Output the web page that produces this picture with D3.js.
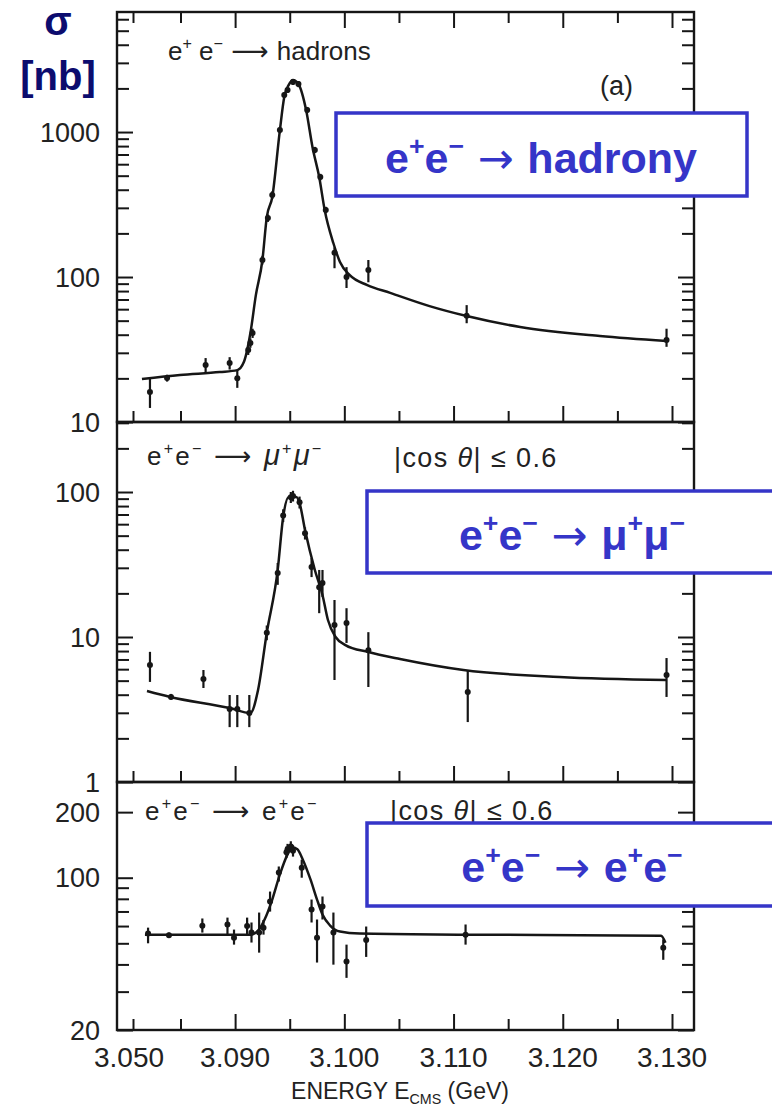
<!DOCTYPE html>
<html>
<head>
<meta charset="utf-8">
<script src="https://cdn.jsdelivr.net/npm/d3@7"></script>
<style>
  body { margin: 0; background: #fff; }
  svg { display: block; }
</style>
</head>
<body>
<svg id="chart"></svg>
<script>
// energy axis (GeV) - axis is broken between 3.050 and 3.085
const majorE = [3.090, 3.100, 3.110, 3.120, 3.130]
const minorE = [3.050, 3.085, 3.095, 3.105, 3.115, 3.125]
const labelE = [3.050, 3.090, 3.100, 3.110, 3.120, 3.130]

// (a) e+e- -> hadrons, sigma in nb
const hadE   = [3.0625, 3.0751, 3.0873, 3.0895, 3.0902, 3.0912, 3.0914, 3.0916, 3.0925, 3.0930, 3.0934, 3.0941, 3.0945, 3.0948, 3.0953, 3.0958, 3.0966, 3.0973, 3.0978, 3.0983, 3.0991, 3.1002, 3.1022, 3.1112, 3.1295]
const hadSig = [16.1, 20.1, 24.7, 25.5, 20, 31.4, 35, 41.1, 131, 255, 368, 1032, 1800, 1950, 2214, 2143, 1419, 751, 489, 290, 147, 100, 112, 54, 36.8]
const hadLo  = [12.5, 19, 22.1, 23, 17.2, 29, 32.5, 38, 122, 240, 345, 980, 1720, 1860, 2110, 2040, 1350, 715, 465, 275, 115, 84, 92, 48, 33]
const hadHi  = [20.4, 21.2, 27.6, 28, 22.8, 34, 37.7, 44, 140, 270, 390, 1085, 1880, 2040, 2320, 2250, 1490, 790, 515, 305, 160, 117, 131, 64, 44]
const hadFitE   = [3.0566, 3.0846, 3.0886, 3.0902, 3.0908, 3.0914, 3.0919, 3.0925, 3.0929, 3.0934, 3.0941, 3.0945, 3.0949, 3.0953, 3.0958, 3.0965, 3.0971, 3.0977, 3.0982, 3.0990, 3.0996, 3.1005, 3.1021, 3.1042, 3.1078, 3.1112, 3.1161, 3.1234, 3.1295]
const hadFitSig = [19.8, 21.1, 22.1, 22.8, 25.9, 41.1, 75, 131, 259, 355, 1032, 1742, 2108, 2285, 2143, 1419, 776, 489, 290, 171, 127, 103, 88, 77.7, 63, 53.8, 45.2, 39.2, 36.2]

// e+e- -> mu+mu-
const muE   = [3.0625, 3.0780, 3.0871, 3.0895, 3.0902, 3.0913, 3.0929, 3.0939, 3.0944, 3.0951, 3.0953, 3.0959, 3.0964, 3.0970, 3.0977, 3.0980, 3.0991, 3.1002, 3.1022, 3.1113, 3.1295]
const muSig = [6.41, 3.86, 5.13, 3.19, 3.19, 2.99, 10.7, 27.6, 69, 92, 94, 85, 52, 30.4, 22, 23.6, 12.1, 12.5, 8.1, 4.17, 5.47]
const muLo  = [4.9, 3.7, 4.45, 2.39, 2.39, 2.39, 9.5, 22.9, 62, 84, 86, 77, 47, 25.9, 14.6, 18.9, 5.05, 9.1, 4.52, 2.59, 3.86]
const muHi  = [7.9, 4.05, 5.92, 3.98, 3.98, 3.98, 12, 32.4, 76, 100, 102, 93, 57, 35, 29, 29, 18, 15.8, 10.8, 5.92, 7.16]
const muFitE   = [3.0603, 3.0773, 3.0895, 3.0914, 3.0921, 3.0929, 3.0939, 3.0944, 3.0949, 3.0956, 3.0959, 3.0964, 3.0973, 3.0980, 3.0985, 3.0992, 3.1001, 3.1022, 3.1051, 3.1109, 3.1197, 3.1295]
const muFitSig = [4.24, 3.86, 3.24, 2.99, 4.31, 10.7, 29, 67.2, 92.4, 92.4, 84, 54.7, 29, 19.5, 13.1, 10, 8.8, 7.88, 7.05, 5.92, 5.3, 5.05]

// e+e- -> e+e-
const eeE   = [3.0611, 3.0765, 3.0870, 3.0893, 3.0899, 3.0911, 3.0915, 3.0922, 3.0926, 3.0932, 3.0940, 3.0947, 3.0948, 3.0951, 3.0953, 3.0961, 3.0970, 3.0975, 3.0980, 3.0990, 3.1002, 3.1020, 3.1111, 3.1292]
const eeSig = [55.5, 54.5, 60.2, 61, 53, 60, 56, 56, 59, 77.8, 105.8, 130.8, 135, 139, 133, 111, 71.4, 53, 73.7, 56, 41.2, 51.8, 54.8, 47.7]
const eeLo  = [50, 53, 56, 54.8, 49.3, 54.8, 50.4, 45.3, 54.8, 69.9, 96, 123, 127, 131, 125, 100, 62.3, 40.8, 64.3, 39.9, 34.7, 43.3, 49.3, 42]
const eeHi  = [59, 56, 65, 65.6, 57.8, 65.6, 62.3, 69.2, 64, 86.4, 112.6, 139, 143, 147, 141, 121, 79.4, 64.3, 82, 69.2, 49.3, 59.7, 61, 52.1]
const eeFitE   = [3.0588, 3.0914, 3.0921, 3.0927, 3.0934, 3.0941, 3.0948, 3.0952, 3.0957, 3.0962, 3.0969, 3.0975, 3.0980, 3.0987, 3.0996, 3.1014, 3.1109, 3.1290, 3.1294]
const eeFitSig = [54.8, 54.8, 57.2, 64.3, 79.4, 103.6, 128, 138, 135, 121, 98.2, 79.4, 67.8, 60.3, 56.6, 55.4, 54.8, 54.2, 50.3]

const W = 772, H = 1107
const svg = d3.select('#chart').attr('width', W).attr('height', H)
svg.append('rect').attr('width', W).attr('height', H).attr('fill', '#fff')

const left = 117, right = 694
const ink = '#161616'
const scanFont = "'Liberation Sans', Arial, sans-serif"

const xScale = d3.scaleLinear()
    .domain([3.050, 3.085, 3.130])
    .range([133, 180.5, 672])

function decadeTicks(lo, hi) {
    let out = []
    for (let p = -1; p < 5; p++) {
        for (let m = 1; m < 10; m++) {
            let v = m * Math.pow(10, p)
            if (v >= lo && v <= hi) out.push(+v.toPrecision(3))
        }
    }
    return out
}

const panels = [
    { top: 12, bottom: 422, dom: [10, 6730], major: [10, 100, 1000], labels: [10, 100, 1000],
      E: hadE, s: hadSig, lo: hadLo, hi: hadHi, fE: hadFitE, fS: hadFitSig, topTicks: true },
    { top: 422, bottom: 782, dom: [1, 304], major: [1, 10, 100], labels: [1, 10, 100],
      E: muE, s: muSig, lo: muLo, hi: muHi, fE: muFitE, fS: muFitSig },
    { top: 782, bottom: 1030, dom: [20, 275], major: [20, 100, 200], labels: [20, 100, 200],
      E: eeE, s: eeSig, lo: eeLo, hi: eeHi, fE: eeFitE, fS: eeFitSig, xLabels: true }
]

panels.forEach(p => {
    const y = d3.scaleLog().domain(p.dom).range([p.bottom, p.top])
    const g = svg.append('g')
    const minor = decadeTicks(p.dom[0], p.dom[1]).filter(v => !p.major.includes(v))

    // inward ticks on all sides
    const yAxes = [
        [d3.axisLeft(y).tickValues(minor).tickSize(-12), left],
        [d3.axisLeft(y).tickValues(p.major).tickSize(-16), left],
        [d3.axisRight(y).tickValues(minor).tickSize(-12), right],
        [d3.axisRight(y).tickValues(p.major).tickSize(-16), right]
    ]
    yAxes.forEach(([ax, xPos]) => {
        g.append('g')
            .attr('transform', `translate(${xPos},0)`)
            .call(ax.tickFormat(''))
            .call(s => s.select('.domain').remove())
            .call(s => s.selectAll('line').attr('stroke', ink).attr('stroke-width', 2))
    })
    const xAxes = [
        [d3.axisBottom(xScale).tickValues(minorE).tickSize(-11), p.bottom],
        [d3.axisBottom(xScale).tickValues(majorE).tickSize(-16), p.bottom]
    ]
    if (p.topTicks) {
        xAxes.push([d3.axisTop(xScale).tickValues(minorE).tickSize(-11), p.top])
        xAxes.push([d3.axisTop(xScale).tickValues(majorE).tickSize(-16), p.top])
    }
    xAxes.forEach(([ax, yPos]) => {
        g.append('g')
            .attr('transform', `translate(0,${yPos})`)
            .call(ax.tickFormat(''))
            .call(s => s.select('.domain').remove())
            .call(s => s.selectAll('line').attr('stroke', ink).attr('stroke-width', 2))
    })

    // frame
    g.append('rect')
        .attr('x', left).attr('y', p.top)
        .attr('width', right - left).attr('height', p.bottom - p.top)
        .attr('fill', 'none').attr('stroke', ink).attr('stroke-width', 2.4)

    // y labels
    g.selectAll('text.ylab')
        .data(p.labels)
        .enter()
        .append('text')
        .attr('class', 'ylab')
        .attr('x', 100)
        .attr('y', d => y(d))
        .attr('dy', '0.36em')
        .attr('text-anchor', 'end')
        .attr('font-family', scanFont)
        .attr('font-size', 27)
        .attr('fill', '#222')
        .text(d => d)

    // fit curve
    const line = d3.line()
        .x(d => xScale(d[0]))
        .y(d => y(d[1]))
        .curve(d3.curveMonotoneX)
    g.append('path')
        .datum(p.fE.map((e, i) => [e, p.fS[i]]))
        .attr('d', line)
        .attr('fill', 'none')
        .attr('stroke', ink)
        .attr('stroke-width', 2.5)

    // data points with error bars
    const pts = p.E.map((e, i) => ({ e: e, s: p.s[i], lo: p.lo[i], hi: p.hi[i] }))
    g.selectAll('line.err')
        .data(pts)
        .enter()
        .append('line')
        .attr('x1', d => xScale(d.e)).attr('x2', d => xScale(d.e))
        .attr('y1', d => y(d.lo)).attr('y2', d => y(d.hi))
        .attr('stroke', ink).attr('stroke-width', 2.2)
    g.selectAll('circle.pt')
        .data(pts)
        .enter()
        .append('circle')
        .attr('cx', d => xScale(d.e))
        .attr('cy', d => y(d.s))
        .attr('r', 3)
        .attr('fill', ink)

    if (p.xLabels) {
        svg.append('g')
            .selectAll('text')
            .data(labelE)
            .enter()
            .append('text')
            .attr('x', d => xScale(d) - (d === 3.050 ? 4 : 0))
            .attr('y', 1067)
            .attr('text-anchor', 'middle')
            .attr('font-family', scanFont)
            .attr('font-size', 28)
            .attr('fill', '#222')
            .text(d => d3.format('.3f')(d))
    }
})

// rich text helper: parts are [text, 'sup' | 'sub' | '', extra attrs]
function rich(x, y, parts, opts) {
    const size = opts.size
    const t = svg.append('text')
        .attr('x', x).attr('y', y)
        .attr('font-family', opts.family)
        .attr('font-size', size)
        .attr('font-weight', opts.weight || 'normal')
        .attr('fill', opts.color)
        .attr('text-anchor', opts.anchor || 'start')
    if (opts.spacing) t.attr('letter-spacing', opts.spacing)
    let shift = 0
    parts.forEach(([txt, kind, extra]) => {
        let target = kind === 'sup' ? -0.42 * size : kind === 'sub' ? 0.22 * size : 0
        const ts = t.append('tspan')
            .attr('dy', target - shift)
            .attr('font-size', kind ? size * 0.62 : size)
            .text(txt)
        if (extra) Object.entries(extra).forEach(([k, v]) => ts.attr(k, v))
        shift = target
    })
    return t
}

// labels from the scanned figure
const scan = { family: scanFont, size: 26, color: '#222' }
const scanWide = { family: scanFont, size: 26, color: '#222', spacing: 2.2 }
const longArrow = { 'font-family': 'DejaVu Sans' }
const mu = { 'font-style': 'italic', 'font-size': 29 }
rich(168, 60, [['e'], ['+', 'sup'], [' e'], ['\u2212', 'sup'], [' \u27F6 ', '', longArrow], ['hadrons']], scan)
svg.append('text').attr('x', 600).attr('y', 95)
    .attr('font-family', scanFont).attr('font-size', 27).attr('fill', '#222').text('(a)')
rich(147, 465, [['e'], ['+', 'sup'], ['e'], ['\u2212', 'sup'], [' \u27F6 ', '', longArrow], ['\u03BC', '', mu], ['+', 'sup'], ['\u03BC', '', mu], ['\u2212', 'sup']], scanWide)
const cosParts = [['|cos '], ['\u03B8', '', { 'font-style': 'italic' }], ['| \u2264 0.6']]
rich(394, 467, cosParts, { family: scanFont, size: 27, color: '#222', spacing: 1.4 })
rich(145, 820, [['e'], ['+', 'sup'], ['e'], ['\u2212', 'sup'], [' \u27F6 ', '', longArrow], ['e'], ['+', 'sup'], ['e'], ['\u2212', 'sup']], scanWide)
rich(390, 820, cosParts, { family: scanFont, size: 27, color: '#222', spacing: 1.4 })

// axis title
rich(400, 1099, [['ENERGY E'], ['CMS', 'sub'], [' (GeV)']], { family: scanFont, size: 23, color: '#222', anchor: 'middle' })

// sigma [nb]
const navy = '#0c0c6e'
svg.append('text').attr('x', 58).attr('y', 35).attr('text-anchor', 'middle')
    .attr('font-family', scanFont).attr('font-weight', 'bold').attr('font-size', 40)
    .attr('fill', navy).text('\u03C3')
svg.append('text').attr('x', 58).attr('y', 90).attr('text-anchor', 'middle')
    .attr('font-family', scanFont).attr('font-weight', 'bold').attr('font-size', 40)
    .attr('fill', navy).text('[nb]')

// blue labels
const blue = '#3535c8'
const arrow = { 'font-weight': 'normal', 'font-family': 'DejaVu Sans' }
const boxes = [
    { x: 336, y: 113, w: 411, h: 83, cx: 541, base: 173, parts: [['e'], ['+', 'sup'], ['e'], ['\u2212', 'sup'], [' \u2192 ', '', arrow], ['hadrony']] },
    { x: 367, y: 491, w: 420, h: 82, cx: 572, base: 550, parts: [['e'], ['+', 'sup'], ['e'], ['\u2212', 'sup'], [' \u2192 ', '', arrow], ['\u03BC'], ['+', 'sup'], ['\u03BC'], ['\u2212', 'sup']] },
    { x: 367, y: 823, w: 420, h: 83, cx: 572, base: 882, parts: [['e'], ['+', 'sup'], ['e'], ['\u2212', 'sup'], [' \u2192 ', '', arrow], ['e'], ['+', 'sup'], ['e'], ['\u2212', 'sup']] }
]
boxes.forEach(b => {
    svg.append('rect')
        .attr('x', b.x).attr('y', b.y).attr('width', b.w).attr('height', b.h)
        .attr('fill', '#fff').attr('stroke', blue).attr('stroke-width', 3.5)
    rich(b.cx, b.base, b.parts, { family: scanFont, size: 43, weight: 'bold', color: blue, anchor: 'middle' })
})
</script>
</body>
</html>
